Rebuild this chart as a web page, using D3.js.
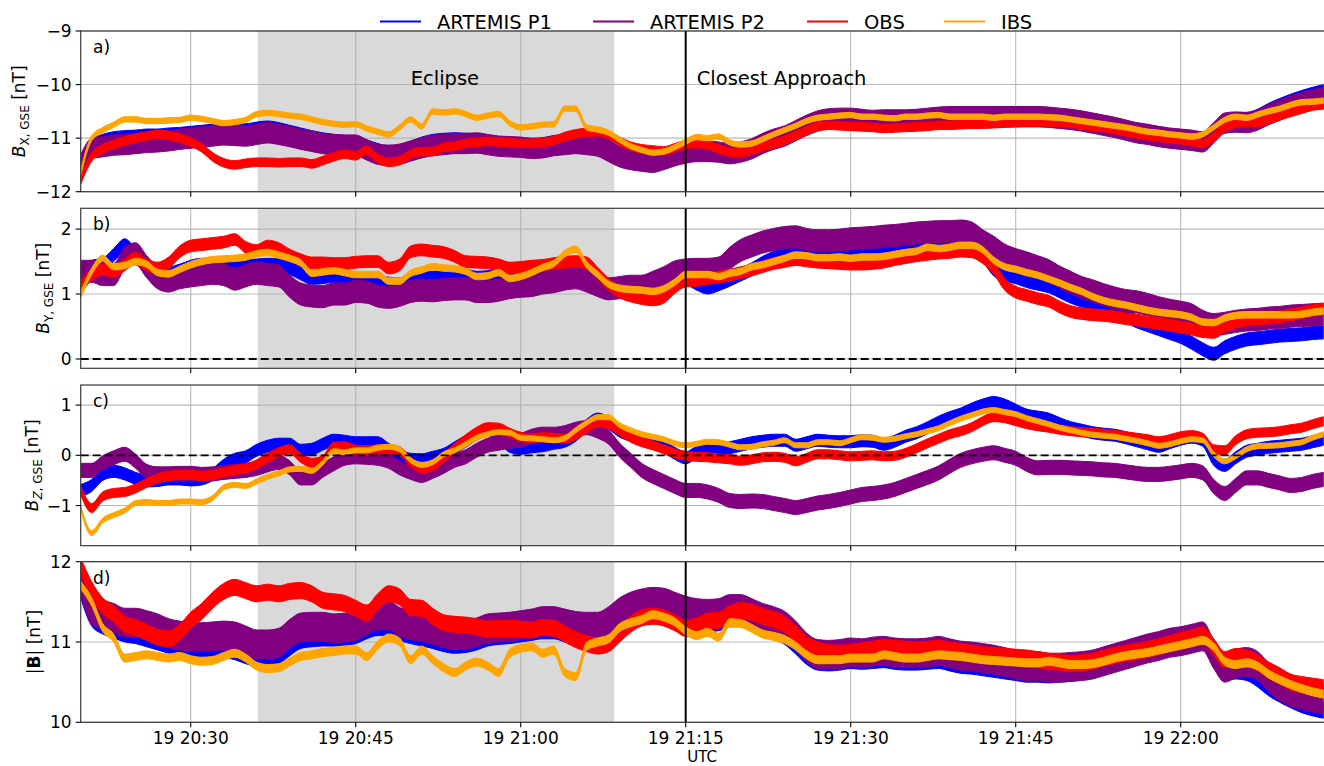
<!DOCTYPE html>
<html>
<head>
<meta charset="utf-8">
<script src="https://cdn.jsdelivr.net/npm/d3@7"></script>
<style>
  body { margin: 0; background: #fff; }
  svg { display: block; font-family: "DejaVu Sans", sans-serif; }
</style>
</head>
<body>
<svg id="chart" width="1324" height="766"></svg>
<script>
// ---- Time grid: one sample per minute, 19th 20:20 UTC to 22:13 UTC ----
const startTime = new Date(Date.UTC(2024, 0, 19, 20, 20));
const endTime = new Date(Date.UTC(2024, 0, 19, 22, 13));
const eclipseStart = new Date(Date.UTC(2024, 0, 19, 20, 36, 6));
const eclipseEnd = new Date(Date.UTC(2024, 0, 19, 21, 8, 30));
const closestApproach = new Date(Date.UTC(2024, 0, 19, 21, 15));
const eclipseLabelTime = new Date(Date.UTC(2024, 0, 19, 20, 50));
const approachLabelTime = new Date(Date.UTC(2024, 0, 19, 21, 16));

const seriesNames = ["ARTEMIS P1", "ARTEMIS P2", "OBS", "IBS"];
const seriesColors = ["#0000ff", "#800080", "#ff0000", "#ffa500"];

// ---- B_X (GSE), nT: band centres per minute ----
const bxP1 = [-11.45,-11.15,-11.05,-11.0,-10.98,-10.97,-10.95,-10.95,-10.93,-10.92,
  -10.9,-10.88,-10.86,-10.84,-10.85,-10.85,-10.82,-10.8,-10.83,-10.88,
  -10.93,-10.98,-11.02,-11.05,-11.07,-11.08,-11.15,-11.22,-11.27,-11.25,
  -11.18,-11.1,-11.05,-11.03,-11.02,-11.03,-11.04,-11.07,-11.1,-11.12,
  -11.13,-11.14,-11.12,-11.08,-11.05,-11.03,-11.02,-11.05,-11.15,-11.28,
  -11.35,-11.38,-11.4,-11.36,-11.3,-11.24,-11.2,-11.2,-11.22,-11.25,
  -11.22,-11.15,-11.06,-10.98,-10.92,-10.82,-10.73,-10.66,-10.63,-10.62,
  -10.62,-10.64,-10.66,-10.65,-10.65,-10.65,-10.64,-10.62,-10.6,-10.59,
  -10.59,-10.58,-10.57,-10.57,-10.56,-10.55,-10.55,-10.56,-10.58,-10.6,
  -10.62,-10.65,-10.68,-10.72,-10.76,-10.8,-10.84,-10.88,-10.92,-10.96,
  -10.99,-11.01,-11.03,-10.85,-10.68,-10.65,-10.64,-10.58,-10.47,-10.38,
  -10.3,-10.23,-10.17,-10.12];
const bxP2 = [-11.5,-11.19,-11.16,-11.13,-11.12,-11.1,-11.08,-11.07,-11.05,-11.02,
  -11.0,-10.98,-10.96,-10.94,-10.95,-10.96,-10.93,-10.9,-10.93,-10.97,
  -11.02,-11.06,-11.1,-11.12,-11.13,-11.13,-11.22,-11.3,-11.32,-11.3,
  -11.24,-11.18,-11.14,-11.12,-11.1,-11.1,-11.09,-11.12,-11.15,-11.16,
  -11.17,-11.19,-11.18,-11.14,-11.12,-11.1,-11.12,-11.15,-11.25,-11.35,
  -11.4,-11.43,-11.45,-11.4,-11.33,-11.28,-11.25,-11.25,-11.26,-11.29,
  -11.26,-11.2,-11.1,-11.02,-10.96,-10.86,-10.76,-10.68,-10.64,-10.63,
  -10.63,-10.65,-10.67,-10.66,-10.66,-10.66,-10.65,-10.63,-10.61,-10.6,
  -10.6,-10.6,-10.6,-10.6,-10.6,-10.6,-10.6,-10.6,-10.61,-10.63,
  -10.65,-10.68,-10.72,-10.76,-10.8,-10.85,-10.9,-10.93,-10.97,-11.0,
  -11.02,-11.04,-11.07,-10.9,-10.72,-10.7,-10.71,-10.66,-10.56,-10.48,
  -10.4,-10.34,-10.28,-10.25];
const bxOBS = [-11.78,-11.35,-11.2,-11.12,-11.05,-11.0,-10.96,-10.93,-10.95,-11.0,
  -11.07,-11.18,-11.35,-11.46,-11.5,-11.47,-11.45,-11.45,-11.46,-11.45,
  -11.45,-11.48,-11.42,-11.35,-11.3,-11.33,-11.22,-11.38,-11.45,-11.42,
  -11.3,-11.25,-11.25,-11.17,-11.15,-11.1,-11.08,-11.06,-11.07,-11.08,
  -11.1,-11.1,-11.08,-11.05,-10.97,-10.92,-10.89,-10.88,-10.95,-11.06,
  -11.15,-11.2,-11.22,-11.24,-11.18,-11.12,-11.1,-11.13,-11.2,-11.26,
  -11.28,-11.22,-11.16,-11.1,-11.04,-10.95,-10.86,-10.78,-10.76,-10.77,
  -10.78,-10.79,-10.8,-10.82,-10.81,-10.8,-10.79,-10.78,-10.76,-10.76,
  -10.75,-10.74,-10.74,-10.73,-10.72,-10.71,-10.7,-10.7,-10.7,-10.71,
  -10.72,-10.75,-10.78,-10.8,-10.84,-10.88,-10.92,-10.95,-10.98,-11.01,
  -11.03,-11.06,-11.1,-10.98,-10.8,-10.72,-10.7,-10.71,-10.65,-10.58,
  -10.52,-10.46,-10.4,-10.38];
const bxIBS = [-11.65,-11.0,-10.85,-10.75,-10.65,-10.65,-10.68,-10.68,-10.67,-10.66,
  -10.62,-10.64,-10.68,-10.72,-10.7,-10.66,-10.55,-10.53,-10.55,-10.58,
  -10.6,-10.65,-10.7,-10.73,-10.75,-10.74,-10.82,-10.88,-10.93,-10.8,
  -10.65,-10.78,-10.5,-10.52,-10.5,-10.55,-10.62,-10.58,-10.55,-10.72,
  -10.8,-10.78,-10.75,-10.74,-10.45,-10.45,-10.8,-10.84,-10.9,-11.03,
  -11.15,-11.22,-11.27,-11.25,-11.17,-11.07,-10.98,-11.0,-10.97,-11.08,
  -11.12,-11.1,-11.02,-10.93,-10.85,-10.77,-10.68,-10.62,-10.6,-10.58,
  -10.57,-10.6,-10.6,-10.62,-10.63,-10.6,-10.6,-10.58,-10.57,-10.6,
  -10.6,-10.6,-10.6,-10.62,-10.6,-10.6,-10.6,-10.6,-10.61,-10.62,
  -10.65,-10.68,-10.71,-10.74,-10.77,-10.8,-10.84,-10.88,-10.9,-10.93,
  -10.95,-10.97,-10.93,-10.8,-10.66,-10.6,-10.62,-10.56,-10.5,-10.45,
  -10.38,-10.33,-10.32,-10.3];
const bxSpread = [0.12, 0.19, 0.08, 0.05];

// ---- B_Y (GSE), nT ----
const byP1 = [1.35,1.42,1.45,1.6,1.75,1.6,1.45,1.35,1.32,1.36,
  1.42,1.45,1.45,1.43,1.42,1.43,1.44,1.45,1.44,1.4,
  1.32,1.25,1.26,1.28,1.27,1.23,1.2,1.18,1.16,1.15,
  1.2,1.25,1.25,1.25,1.26,1.28,1.25,1.26,1.3,1.25,
  1.28,1.35,1.38,1.42,1.45,1.45,1.38,1.25,1.12,1.05,
  1.02,1.0,1.05,1.12,1.22,1.24,1.16,1.1,1.15,1.22,
  1.3,1.38,1.48,1.56,1.62,1.65,1.64,1.63,1.64,1.65,
  1.66,1.67,1.68,1.72,1.76,1.78,1.8,1.8,1.79,1.78,
  1.76,1.74,1.6,1.38,1.3,1.26,1.2,1.16,1.12,1.04,
  0.96,0.9,0.84,0.78,0.72,0.66,0.58,0.52,0.46,0.4,
  0.34,0.25,0.15,0.08,0.18,0.25,0.3,0.32,0.34,0.36,
  0.37,0.38,0.4,0.41];
const byP2 = [1.35,1.35,1.3,1.3,1.55,1.62,1.42,1.25,1.2,1.25,
  1.28,1.3,1.32,1.3,1.23,1.28,1.32,1.3,1.28,1.12,
  1.0,0.97,0.96,1.0,1.0,1.04,1.03,0.97,0.95,0.98,
  1.04,1.06,1.05,1.07,1.08,1.08,1.04,1.04,1.06,1.1,
  1.12,1.13,1.17,1.19,1.23,1.25,1.2,1.13,1.08,1.1,
  1.12,1.12,1.18,1.25,1.34,1.37,1.38,1.38,1.4,1.55,
  1.67,1.74,1.8,1.84,1.87,1.88,1.84,1.82,1.82,1.83,
  1.85,1.86,1.87,1.89,1.9,1.92,1.94,1.95,1.96,1.96,
  1.97,1.94,1.82,1.72,1.6,1.53,1.48,1.42,1.36,1.26,
  1.18,1.1,1.05,0.99,0.94,0.9,0.88,0.84,0.79,0.75,
  0.72,0.68,0.58,0.53,0.55,0.58,0.6,0.61,0.63,0.64,
  0.66,0.67,0.68,0.69];
const byOBS = [1.1,1.3,1.38,1.35,1.45,1.55,1.45,1.4,1.48,1.65,
  1.74,1.76,1.78,1.8,1.84,1.72,1.67,1.74,1.7,1.6,
  1.53,1.48,1.48,1.47,1.47,1.49,1.5,1.5,1.4,1.45,
  1.65,1.68,1.66,1.64,1.58,1.5,1.49,1.48,1.45,1.4,
  1.41,1.43,1.44,1.47,1.49,1.5,1.48,1.32,1.15,1.03,
  0.97,0.93,0.91,0.95,1.1,1.2,1.21,1.24,1.26,1.29,
  1.33,1.37,1.42,1.47,1.5,1.53,1.51,1.49,1.48,1.47,
  1.46,1.46,1.47,1.49,1.53,1.56,1.59,1.61,1.63,1.64,
  1.66,1.65,1.56,1.4,1.15,1.03,0.98,0.93,0.89,0.8,
  0.73,0.7,0.68,0.67,0.65,0.62,0.6,0.57,0.55,0.52,
  0.49,0.46,0.42,0.41,0.5,0.57,0.6,0.62,0.63,0.65,
  0.68,0.71,0.75,0.77];
const byIBS = [0.99,1.35,1.55,1.42,1.44,1.5,1.46,1.33,1.31,1.38,
  1.45,1.5,1.53,1.54,1.55,1.57,1.62,1.64,1.6,1.55,
  1.48,1.32,1.34,1.36,1.33,1.3,1.3,1.3,1.2,1.2,
  1.32,1.37,1.42,1.4,1.39,1.35,1.27,1.28,1.33,1.24,
  1.27,1.33,1.41,1.47,1.62,1.69,1.45,1.3,1.15,1.09,
  1.07,1.06,1.04,1.08,1.18,1.3,1.3,1.3,1.27,1.32,
  1.35,1.42,1.45,1.5,1.55,1.6,1.59,1.56,1.56,1.57,
  1.55,1.57,1.57,1.58,1.61,1.64,1.66,1.72,1.7,1.72,
  1.75,1.75,1.68,1.52,1.42,1.38,1.33,1.29,1.23,1.17,
  1.1,1.04,0.96,0.9,0.86,0.83,0.79,0.75,0.72,0.7,
  0.68,0.64,0.57,0.56,0.63,0.67,0.68,0.68,0.68,0.68,
  0.68,0.69,0.72,0.74];
const bySpread = [0.1, 0.17, 0.09, 0.05];

// ---- B_Z (GSE), nT ----
const bzP1 = [-0.7,-0.6,-0.38,-0.32,-0.37,-0.46,-0.51,-0.5,-0.47,-0.47,
  -0.49,-0.47,-0.38,-0.2,-0.08,-0.03,0.1,0.18,0.22,0.22,
  0.1,0.12,0.22,0.3,0.28,0.25,0.25,0.25,0.12,0.0,
  -0.08,-0.09,-0.04,0.02,0.15,0.28,0.42,0.5,0.38,0.18,
  0.14,0.17,0.19,0.24,0.28,0.4,0.6,0.72,0.64,0.48,
  0.4,0.32,0.26,0.18,0.04,-0.05,0.06,0.1,0.1,0.15,
  0.2,0.25,0.28,0.3,0.3,0.2,0.25,0.3,0.28,0.27,
  0.27,0.29,0.28,0.22,0.28,0.38,0.45,0.55,0.66,0.75,
  0.82,0.92,1.0,1.05,1.0,0.9,0.8,0.76,0.72,0.63,
  0.55,0.5,0.45,0.42,0.4,0.35,0.29,0.23,0.18,0.25,
  0.32,0.36,0.3,-0.08,-0.2,-0.05,0.08,0.12,0.16,0.18,
  0.2,0.22,0.27,0.32];
const bzP2 = [-0.3,-0.3,-0.15,-0.05,0.02,-0.12,-0.32,-0.37,-0.37,-0.36,
  -0.36,-0.38,-0.37,-0.34,-0.32,-0.3,-0.26,-0.19,-0.14,-0.25,
  -0.45,-0.45,-0.3,-0.17,-0.06,-0.03,-0.04,-0.06,-0.12,-0.25,
  -0.34,-0.4,-0.32,-0.22,-0.1,-0.03,0.1,0.2,0.24,0.28,
  0.3,0.38,0.42,0.42,0.45,0.52,0.55,0.48,0.36,0.1,
  -0.1,-0.3,-0.42,-0.52,-0.62,-0.7,-0.7,-0.73,-0.8,-0.9,
  -0.92,-0.91,-0.92,-0.96,-1.0,-1.04,-1.0,-0.95,-0.92,-0.88,
  -0.83,-0.78,-0.76,-0.73,-0.68,-0.6,-0.52,-0.44,-0.35,-0.22,
  -0.1,-0.03,0.02,0.05,0.0,-0.06,-0.18,-0.25,-0.24,-0.24,
  -0.25,-0.26,-0.27,-0.29,-0.3,-0.33,-0.36,-0.38,-0.38,-0.36,
  -0.33,-0.3,-0.35,-0.62,-0.76,-0.6,-0.45,-0.45,-0.5,-0.55,
  -0.6,-0.58,-0.52,-0.48];
const bzOBS = [-0.7,-1.05,-0.82,-0.75,-0.73,-0.66,-0.55,-0.46,-0.41,-0.39,
  -0.39,-0.41,-0.39,-0.34,-0.29,-0.26,-0.18,-0.05,0.06,0.12,
  -0.05,-0.15,-0.1,0.17,0.18,0.11,0.1,0.12,0.12,0.08,
  -0.13,-0.26,-0.22,-0.05,0.15,0.32,0.47,0.56,0.55,0.45,
  0.37,0.34,0.36,0.35,0.33,0.4,0.54,0.65,0.62,0.48,
  0.35,0.26,0.2,0.12,0.04,-0.01,-0.03,-0.04,-0.06,-0.08,
  -0.11,-0.08,-0.04,-0.03,-0.05,-0.12,-0.05,0.02,0.02,0.0,
  -0.02,-0.01,0.0,-0.02,-0.01,0.05,0.14,0.24,0.33,0.42,
  0.48,0.56,0.68,0.76,0.74,0.68,0.62,0.58,0.55,0.51,
  0.48,0.46,0.45,0.43,0.41,0.38,0.35,0.32,0.28,0.32,
  0.38,0.4,0.35,0.12,0.1,0.3,0.42,0.45,0.46,0.48,
  0.52,0.55,0.62,0.68];
const bzIBS = [-1.05,-1.55,-1.3,-1.19,-1.1,-0.95,-0.93,-0.95,-0.95,-0.92,
  -0.92,-0.93,-0.85,-0.64,-0.59,-0.61,-0.52,-0.43,-0.36,-0.28,
  -0.27,-0.31,-0.15,0.08,0.06,0.1,0.1,0.15,0.17,0.12,
  -0.1,-0.19,-0.14,0.02,0.1,0.22,0.35,0.42,0.46,0.45,
  0.35,0.34,0.32,0.3,0.34,0.5,0.65,0.76,0.76,0.6,
  0.5,0.42,0.37,0.32,0.24,0.2,0.23,0.27,0.26,0.21,
  0.16,0.17,0.22,0.25,0.3,0.2,0.2,0.26,0.26,0.24,
  0.3,0.36,0.35,0.31,0.33,0.38,0.42,0.48,0.54,0.64,
  0.73,0.8,0.87,0.9,0.86,0.82,0.74,0.68,0.62,0.55,
  0.5,0.45,0.41,0.39,0.37,0.33,0.29,0.24,0.19,0.22,
  0.28,0.32,0.3,0.02,-0.12,-0.02,0.12,0.18,0.19,0.2,
  0.23,0.26,0.35,0.42];
const bzSpread = [0.12, 0.14, 0.09, 0.05];

// ---- |B|, nT ----
const bmP1 = [11.65,11.3,11.2,11.15,11.1,11.08,11.04,11.0,10.96,10.93,
  10.92,10.91,10.9,10.9,10.88,10.83,10.8,10.8,10.83,10.93,
  11.02,11.04,11.05,11.05,11.06,11.08,11.14,11.18,11.18,11.12,
  11.08,11.05,11.02,10.98,10.96,10.97,11.0,11.05,11.07,11.08,
  11.1,11.12,11.14,11.14,11.1,11.06,11.04,11.04,11.12,11.25,
  11.32,11.36,11.38,11.37,11.32,11.27,11.24,11.23,11.24,11.29,
  11.29,11.24,11.18,11.13,11.07,10.95,10.82,10.75,10.74,10.75,
  10.77,10.76,10.77,10.78,10.76,10.75,10.75,10.76,10.77,10.74,
  10.71,10.7,10.68,10.66,10.64,10.62,10.6,10.6,10.59,10.6,
  10.61,10.63,10.66,10.7,10.74,10.78,10.82,10.86,10.9,10.94,
  10.97,11.0,11.03,10.8,10.62,10.64,10.62,10.54,10.43,10.35,
  10.28,10.22,10.18,10.15];
const bmP2 = [11.8,11.4,11.34,11.3,11.24,11.24,11.21,11.17,11.11,11.08,
  11.06,11.06,11.07,11.08,11.07,11.02,10.97,10.97,10.99,11.1,
  11.18,11.19,11.19,11.17,11.18,11.2,11.27,11.33,11.33,11.25,
  11.21,11.19,11.15,11.11,11.09,11.09,11.12,11.17,11.18,11.19,
  11.21,11.23,11.26,11.26,11.23,11.2,11.19,11.19,11.26,11.37,
  11.44,11.48,11.5,11.49,11.44,11.39,11.36,11.35,11.36,11.41,
  11.41,11.36,11.3,11.26,11.2,11.08,10.93,10.85,10.84,10.85,
  10.87,10.86,10.88,10.89,10.87,10.86,10.86,10.87,10.89,10.86,
  10.83,10.82,10.8,10.78,10.75,10.72,10.7,10.7,10.68,10.68,
  10.69,10.7,10.72,10.76,10.8,10.84,10.88,10.92,10.95,10.99,
  11.01,11.04,11.07,10.85,10.68,10.73,10.75,10.7,10.56,10.45,
  10.38,10.34,10.31,10.29];
const bmOBS = [11.95,11.65,11.45,11.35,11.22,11.18,11.12,11.06,11.04,11.12,
  11.27,11.38,11.52,11.63,11.68,11.64,11.6,11.62,11.6,11.63,
  11.64,11.6,11.52,11.5,11.48,11.42,11.36,11.5,11.6,11.56,
  11.43,11.42,11.32,11.24,11.22,11.21,11.19,11.16,11.17,11.17,
  11.16,11.15,11.18,11.17,11.1,11.03,10.98,10.95,10.98,11.1,
  11.22,11.3,11.32,11.3,11.24,11.17,11.2,11.26,11.27,11.35,
  11.39,11.37,11.32,11.28,11.22,11.1,10.97,10.9,10.87,10.86,
  10.87,10.89,10.91,10.93,10.92,10.91,10.9,10.91,10.92,10.9,
  10.88,10.86,10.84,10.83,10.82,10.81,10.8,10.78,10.76,10.75,
  10.73,10.74,10.76,10.8,10.83,10.86,10.88,10.91,10.94,10.98,
  11.02,11.05,11.09,10.94,10.78,10.82,10.8,10.74,10.65,10.58,
  10.5,10.47,10.45,10.43];
const bmIBS = [11.71,11.5,11.18,11.05,10.8,10.82,10.84,10.82,10.8,10.82,
  10.78,10.76,10.77,10.82,10.86,10.8,10.7,10.67,10.68,10.75,
  10.82,10.84,10.87,10.88,10.9,10.9,10.82,10.96,11.05,11.0,
  10.78,10.9,10.78,10.68,10.62,10.7,10.75,10.7,10.62,10.86,
  10.92,10.94,10.86,10.9,10.62,10.57,10.95,11.0,11.04,11.18,
  11.24,11.28,11.34,11.31,11.25,11.14,11.08,11.12,11.06,11.24,
  11.23,11.17,11.1,11.07,11.03,10.95,10.84,10.78,10.78,10.78,
  10.8,10.8,10.8,10.84,10.82,10.8,10.8,10.82,10.84,10.83,
  10.82,10.8,10.78,10.77,10.76,10.75,10.74,10.74,10.76,10.74,
  10.72,10.72,10.73,10.76,10.8,10.83,10.85,10.87,10.9,10.93,
  10.96,10.99,11.02,10.94,10.76,10.72,10.74,10.7,10.6,10.53,
  10.47,10.42,10.38,10.35];
const bmSpread = [0.1, 0.18, 0.1, 0.05];

// ---- Axis ticks ----
const bxTicks = [-12, -11, -10, -9];
const byTicks = [0, 1, 2];
const bzTicks = [-1, 0, 1];
const bmTicks = [10, 11, 12];

// ---- Layout ----
const svg = d3.select("#chart");
const plotLeft = 80.7, plotRight = 1323.7;
const x = d3.scaleUtc().domain([startTime, endTime]).range([plotLeft, plotRight]);
const timeAt = i => new Date(startTime.getTime() + i * 60000);

const panels = [
  { tag: "a)", top: 31, bottom: 191.7, domain: [-12, -9], ticks: bxTicks,
    data: [bxP1, bxP2, bxOBS, bxIBS], spread: bxSpread, zeroLine: false,
    label: { x: 25, parts: [["B", "italic"], ["X, GSE", "sub"], [" [nT]", "normal"]] } },
  { tag: "b)", top: 208.3, bottom: 368.3, domain: [-0.143, 2.32], ticks: byTicks,
    data: [byP1, byP2, byOBS, byIBS], spread: bySpread, zeroLine: true,
    label: { x: 49, parts: [["B", "italic"], ["Y, GSE", "sub"], [" [nT]", "normal"]] } },
  { tag: "c)", top: 385, bottom: 545.7, domain: [-1.8, 1.4], ticks: bzTicks,
    data: [bzP1, bzP2, bzOBS, bzIBS], spread: bzSpread, zeroLine: true,
    label: { x: 38, parts: [["B", "italic"], ["Z", "subitalic"], [", GSE", "sub2"], [" [nT]", "normal"]] } },
  { tag: "d)", top: 561.7, bottom: 722.3, domain: [10, 12], ticks: bmTicks,
    data: [bmP1, bmP2, bmOBS, bmIBS], spread: bmSpread, zeroLine: false,
    label: { x: 40, parts: [["|", "normal"], ["B", "bold"], ["|", "normal"], [" [nT]", "normal"]] } }
];

const xTicks = x.ticks(d3.utcMinute.every(15));
const tickFmt = d3.utcFormat("%d %H:%M");
const yFmt = d3.format("d");
const gridColor = "#b0b0b0";

const defs = svg.append("defs");

panels.forEach((p, pi) => {
  const y = d3.scaleLinear().domain(p.domain).range([p.bottom, p.top]);
  const g = svg.append("g");
  const clipId = "clip" + pi;
  defs.append("clipPath").attr("id", clipId)
    .append("rect").attr("x", plotLeft).attr("y", p.top)
    .attr("width", plotRight - plotLeft).attr("height", p.bottom - p.top);

  // eclipse interval
  g.append("rect")
    .attr("x", x(eclipseStart)).attr("y", p.top)
    .attr("width", x(eclipseEnd) - x(eclipseStart)).attr("height", p.bottom - p.top)
    .attr("fill", "#808080").attr("fill-opacity", 0.3);

  // grid
  g.selectAll(".vg").data(xTicks).join("line")
    .attr("x1", d => x(d)).attr("x2", d => x(d))
    .attr("y1", p.top).attr("y2", p.bottom)
    .attr("stroke", gridColor).attr("stroke-width", 1.1).attr("stroke-opacity", 0.9);
  g.selectAll(".hg").data(p.ticks).join("line")
    .attr("x1", plotLeft).attr("x2", plotRight)
    .attr("y1", d => y(d)).attr("y2", d => y(d))
    .attr("stroke", gridColor).attr("stroke-width", 1.1).attr("stroke-opacity", 0.9);

  // traces: each drawn as a band of its sample spread around the per-minute value
  const traces = g.append("g").attr("clip-path", `url(#${clipId})`);
  p.data.forEach((vals, si) => {
    const s = p.spread[si];
    const area = d3.area()
      .x((d, i) => x(timeAt(i)))
      .y0(d => y(d - s))
      .y1(d => y(d + s))
      .curve(d3.curveMonotoneX);
    traces.append("path")
      .datum(vals)
      .attr("d", area)
      .attr("fill", seriesColors[si])
      .attr("stroke", seriesColors[si])
      .attr("stroke-width", 1)
      .attr("stroke-linejoin", "round");
  });

  if (p.zeroLine) {
    g.append("line")
      .attr("x1", plotLeft).attr("x2", plotRight)
      .attr("y1", y(0)).attr("y2", y(0))
      .attr("stroke", "#000").attr("stroke-width", 1.8)
      .attr("stroke-dasharray", "8,4");
  }

  // closest approach marker
  g.append("line")
    .attr("x1", x(closestApproach)).attr("x2", x(closestApproach))
    .attr("y1", p.top).attr("y2", p.bottom)
    .attr("stroke", "#000").attr("stroke-width", 2);

  // frame
  g.append("rect")
    .attr("x", plotLeft).attr("y", p.top)
    .attr("width", plotRight - plotLeft + 2).attr("height", p.bottom - p.top)
    .attr("fill", "none").attr("stroke", "#3a3a3a").attr("stroke-width", 1.2);

  // x ticks
  g.selectAll(".xt").data(xTicks).join("line")
    .attr("x1", d => x(d)).attr("x2", d => x(d))
    .attr("y1", p.bottom).attr("y2", p.bottom + 5)
    .attr("stroke", "#000").attr("stroke-width", 1.1);

  // y ticks + labels
  g.selectAll(".yt").data(p.ticks).join("line")
    .attr("x1", plotLeft - 5).attr("x2", plotLeft)
    .attr("y1", d => y(d)).attr("y2", d => y(d))
    .attr("stroke", "#000").attr("stroke-width", 1.1);
  g.selectAll(".ytl").data(p.ticks).join("text")
    .attr("x", plotLeft - 9).attr("y", d => y(d))
    .attr("dy", "0.36em")
    .attr("text-anchor", "end")
    .attr("font-size", 17)
    .text(d => yFmt(d));

  // panel tag
  g.append("text")
    .attr("x", 93).attr("y", p.top + 22)
    .attr("font-size", 17)
    .text(p.tag);

  // y-axis label
  const cy = (p.top + p.bottom) / 2;
  const lbl = g.append("text")
    .attr("transform", `translate(${p.label.x},${cy}) rotate(-90)`)
    .attr("text-anchor", "middle")
    .attr("font-size", 17);
  let shifted = 0;
  p.label.parts.forEach(([txt, style]) => {
    const ts = lbl.append("tspan").text(txt);
    if (style === "italic") ts.attr("font-style", "italic");
    if (style === "bold") ts.attr("font-weight", "bold");
    if (style === "sub" || style === "subitalic") {
      ts.attr("font-size", 12).attr("dy", 4);
      shifted = 4;
      if (style === "subitalic") ts.attr("font-style", "italic");
    }
    if (style === "sub2") ts.attr("font-size", 12);
    if (style === "normal" && shifted) { ts.attr("dy", -shifted); shifted = 0; }
  });
});

// x tick labels under the bottom panel
const lastBottom = panels[panels.length - 1].bottom;
svg.append("g").selectAll("text").data(xTicks).join("text")
  .attr("x", d => x(d)).attr("y", lastBottom + 21.5)
  .attr("text-anchor", "middle")
  .attr("font-size", 17)
  .text(d => tickFmt(d));
svg.append("text")
  .attr("x", (plotLeft + plotRight) / 2).attr("y", 762)
  .attr("text-anchor", "middle")
  .attr("font-size", 15)
  .text("UTC");

// annotations in the top panel
svg.append("text")
  .attr("x", x(eclipseLabelTime)).attr("y", 85)
  .attr("font-size", 19.5)
  .text("Eclipse");
svg.append("text")
  .attr("x", x(approachLabelTime)).attr("y", 85)
  .attr("font-size", 19.5)
  .text("Closest Approach");

// legend
const legendX = [380, 593, 807, 944];
const legend = svg.append("g");
seriesNames.forEach((name, i) => {
  legend.append("line")
    .attr("x1", legendX[i]).attr("x2", legendX[i] + 41)
    .attr("y1", 21.5).attr("y2", 21.5)
    .attr("stroke", seriesColors[i]).attr("stroke-width", 2.2);
  legend.append("text")
    .attr("x", legendX[i] + 57).attr("y", 29)
    .attr("font-size", 19.5)
    .text(name);
});
</script>
</body>
</html>
